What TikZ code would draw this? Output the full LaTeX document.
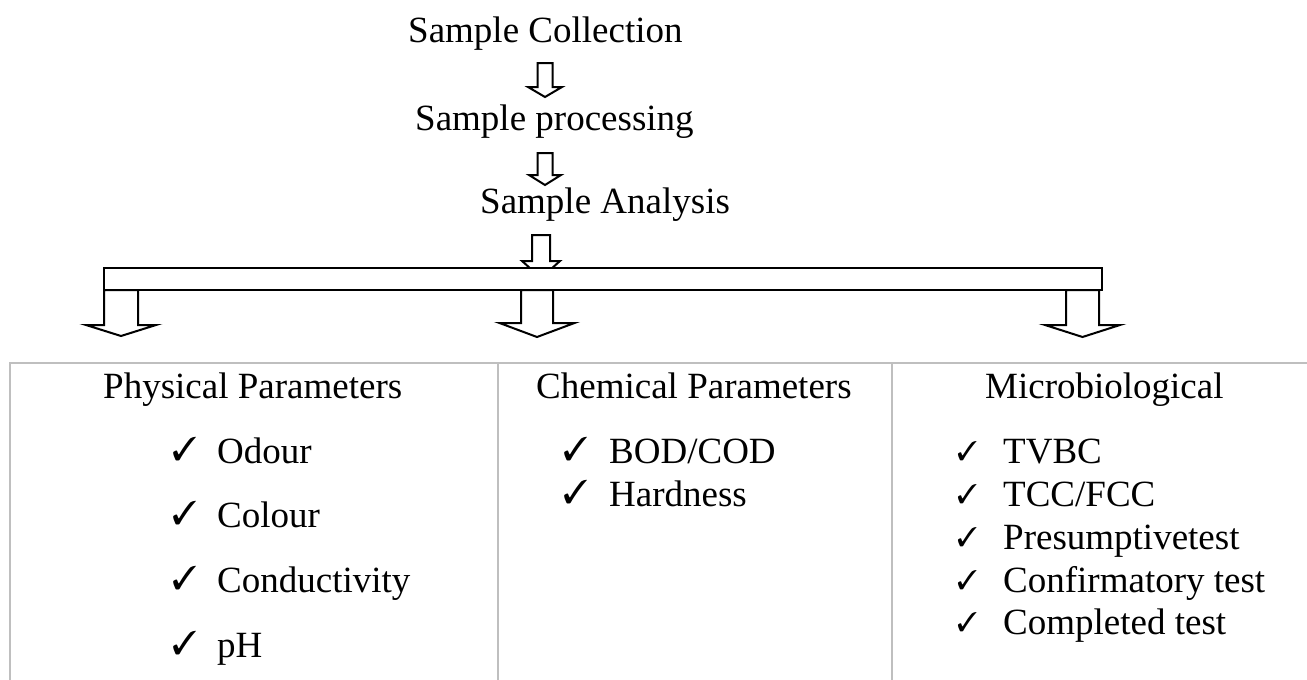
\documentclass[tikz,border=0pt]{standalone}
\usepackage{fontspec}
\setmainfont{Liberation Serif}
\usepackage{pifont}
\definecolor{tablegray}{RGB}{191,191,191}
\tikzset{
  lbl/.style={anchor=base west, inner sep=0pt, font=\fontsize{37}{44}\selectfont},
  chk/.style={anchor=base west, inner sep=0pt, font=\fontsize{33}{40}\selectfont},
  chks/.style={anchor=base west, inner sep=0pt, font=\fontsize{27}{32}\selectfont},
  blk/.style={draw=black, line width=2pt, fill=white, line join=miter},
  tbl/.style={draw=tablegray, line width=2pt}
}
% cx, top, headY, tip, shaft half width, head half width
\newcommand\blockarrow[6]{%
  \draw[blk] (#1-#5,#2) -- (#1-#5,#3) -- (#1-#6,#3) -- (#1,#4) -- (#1+#6,#3) -- (#1+#5,#3) -- (#1+#5,#2) -- cycle;
}
\begin{document}
\begin{tikzpicture}[x=1pt,y=-1pt]
\useasboundingbox (0,0) rectangle (1307,680);
\fill[white] (0,0) rectangle (1307,680);

% steps
\node[lbl] (c1) at (408,42) {Sample Collection};
\node[lbl] (c2) at (415,130) {Sample processing};
\node[lbl] (c3) at (480,213) {Sample Analysis};

\blockarrow{545}{63}{87}{97}{7.5}{17}
\blockarrow{545}{153}{175}{185}{7.5}{16}
\blockarrow{541}{235}{261}{278}{9}{19}

% distribution bar
\draw[blk] (104,268) rectangle (1102,290);
\blockarrow{121}{290}{325}{336}{17}{35}
\blockarrow{537}{290}{323}{337}{16}{37.5}
\blockarrow{1082.5}{290}{325}{337}{16.5}{37.5}

% table
\draw[tbl] (1307,363) -- (10,363) -- (10,681);
\draw[tbl] (498,363) -- (498,681);
\draw[tbl] (892,363) -- (892,681);

\node[lbl] (phys) at (103,398) {Physical Parameters};
\node[lbl] (chem) at (536,398) {Chemical Parameters};
\node[lbl] (micro) at (985,398) {Microbiological};

% physical items
\foreach \t/\y [count=\i] in {Odour/463,Colour/527,Conductivity/592,pH/657}{
  \node[chk] (pc\i) at (172,\y-3) {\ding{51}};
  \node[lbl] (p\i) at (217,\y) {\t};
}
% chemical items
\foreach \t/\y [count=\i] in {{BOD/COD}/463,Hardness/506}{
  \node[chk] (cc\i) at (563,\y-3) {\ding{51}};
  \node[lbl] (ch\i) at (609,\y) {\t};
}
% microbiological items
\foreach \t/\y [count=\i] in {TVBC/463,{TCC/FCC}/506,Presumptivetest/549,Confirmatory test/592,Completed test/634}{
  \node[chks] (mc\i) at (957,\y-3) {\ding{51}};
  \node[lbl] (m\i) at (1003,\y) {\t};
}
\end{tikzpicture}
\end{document}
